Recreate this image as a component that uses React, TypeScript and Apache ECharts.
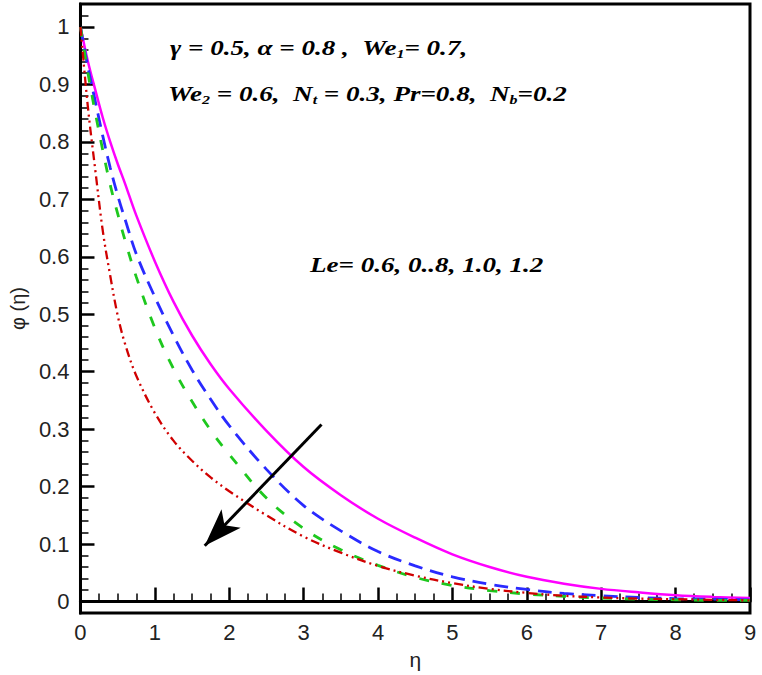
import React, { useEffect, useRef } from "react";
import * as echarts from "echarts";

const eta = [0, 0.1, 0.2, 0.3, 0.4, 0.5, 0.6, 0.75, 1, 1.25, 1.5, 1.75, 2, 2.5, 3, 3.5, 4, 4.5, 5, 5.5, 6, 6.5, 7, 7.5, 8, 8.5, 9];
const phiLe06 = [1, 0.94, 0.89, 0.842, 0.8, 0.762, 0.727, 0.672, 0.592, 0.522, 0.463, 0.413, 0.37, 0.297, 0.234, 0.185, 0.144, 0.111, 0.082, 0.06, 0.043, 0.031, 0.022, 0.016, 0.011, 0.008, 0.006];
const phiLe08 = [1, 0.93, 0.87, 0.81, 0.755, 0.707, 0.665, 0.605, 0.53, 0.463, 0.403, 0.352, 0.306, 0.23, 0.167, 0.123, 0.087, 0.062, 0.043, 0.03, 0.021, 0.014, 0.01, 0.007, 0.005, 0.004, 0.003];
const phiLe10 = [1, 0.92, 0.85, 0.785, 0.725, 0.675, 0.628, 0.565, 0.476, 0.405, 0.348, 0.298, 0.256, 0.18, 0.127, 0.09, 0.063, 0.042, 0.028, 0.019, 0.013, 0.009, 0.006, 0.004, 0.003, 0.002, 0.002];
const phiLe12 = [1, 0.86, 0.75, 0.645, 0.567, 0.498, 0.448, 0.393, 0.328, 0.28, 0.245, 0.216, 0.192, 0.15, 0.113, 0.085, 0.062, 0.045, 0.032, 0.022, 0.015, 0.01, 0.007, 0.005, 0.004, 0.003, 0.002];

const yMajorTicks = [0, 0.1, 0.2, 0.3, 0.4, 0.5, 0.6, 0.7, 0.8, 0.9, 1];
const yMinorTicks = [0.02, 0.04, 0.06, 0.08, 0.12, 0.14, 0.16, 0.18, 0.22, 0.24, 0.26, 0.28, 0.32, 0.34, 0.36, 0.38, 0.42, 0.44, 0.46, 0.48, 0.52, 0.54, 0.56, 0.58, 0.62, 0.64, 0.66, 0.68, 0.72, 0.74, 0.76, 0.78, 0.82, 0.84, 0.86, 0.88, 0.92, 0.94, 0.96, 0.98, 1.02];

const arrowStart = [3.24, 0.308];
const arrowEnd = [1.67, 0.097];

const pair = (ys: number[]) => eta.map((x, i) => [x, ys[i]]);

export default function App() {
  const ref = useRef<HTMLDivElement>(null);
  useEffect(() => {
    if (!ref.current) return;
    const chart = echarts.init(ref.current, null, { renderer: "svg" });
    const serif = "Liberation Serif";
    const sans = "Liberation Sans";
    const rich = {
      t: { fontFamily: serif, fontSize: 22, fontWeight: "bold", fontStyle: "italic", fill: "#000" },
      s: { fontFamily: serif, fontSize: 13, fontWeight: "bold", fontStyle: "italic", fill: "#000", padding: [12, 0, 0, 0] },
    };
    const note = (x: number, y: number, text: string) => ({
      type: "text",
      x,
      y,
      scaleX: 1.23,
      scaleY: 1,
      style: { text, rich, verticalAlign: "top", align: "left" },
    });
    chart.setOption({
      animation: false,
      backgroundColor: "#fff",
      grid: { left: 79, right: 12, top: 4, bottom: 62, show: true, borderColor: "#000", borderWidth: 3 },
      xAxis: {
        type: "value",
        min: 0,
        max: 9,
        interval: 1,
        name: "η",
        nameLocation: "middle",
        nameGap: 36,
        nameTextStyle: { fontFamily: sans, fontSize: 21, color: "#222" },
        axisLine: { lineStyle: { color: "#000", width: 3 } },
        axisTick: { inside: true, length: 14, lineStyle: { color: "#000", width: 2.5 } },
        minorTick: { show: true, splitNumber: 4, length: 8, lineStyle: { color: "#000", width: 1.5 } },
        axisLabel: { fontFamily: sans, fontSize: 22, color: "#222", margin: 8 },
        splitLine: { show: false },
      },
      yAxis: [
        {
          type: "value",
          min: -0.02,
          max: 1.04,
          position: "left",
          name: "φ (η)",
          nameLocation: "middle",
          nameGap: 48,
          nameRotate: 90,
          nameTextStyle: { fontFamily: sans, fontSize: 20, color: "#222" },
          axisLine: { lineStyle: { color: "#000", width: 3 } },
          axisTick: { inside: true, length: 14, customValues: yMajorTicks, lineStyle: { color: "#000", width: 2.5 } },
          axisLabel: {
            fontFamily: sans,
            fontSize: 22,
            color: "#222",
            margin: 11,
            customValues: yMajorTicks,
            formatter: (v: number) => String(+v.toFixed(1)),
          },
          splitLine: { show: false },
        },
        {
          type: "value",
          min: -0.02,
          max: 1.04,
          position: "left",
          offset: 0,
          axisLine: { show: false },
          axisTick: { inside: true, length: 8, customValues: yMinorTicks, lineStyle: { color: "#000", width: 1.5 } },
          axisLabel: { show: false },
          splitLine: { show: false },
        },
      ],
      series: [
        {
          type: "line",
          yAxisIndex: 0,
          data: pair(phiLe06),
          smooth: 0.35,
          showSymbol: false,
          lineStyle: { color: "#ff00ff", width: 2.5, type: "solid" },
          markLine: {
            silent: true,
            animation: false,
            label: { show: false },
            lineStyle: { color: "#000", width: 3, type: "solid" },
            data: [[
              { coord: arrowStart, symbol: "none" },
              { coord: arrowEnd, symbol: "arrow", symbolSize: [20, 38] },
            ]],
          },
        },
        {
          type: "line",
          yAxisIndex: 0,
          data: pair(phiLe08),
          smooth: 0.35,
          showSymbol: false,
          lineStyle: { color: "#2a2aff", width: 2.8, type: [14, 8] },
        },
        {
          type: "line",
          yAxisIndex: 0,
          data: pair(phiLe10),
          smooth: 0.35,
          showSymbol: false,
          lineStyle: { color: "#1ec81e", width: 2.8, type: [10, 13] },
        },
        {
          type: "line",
          yAxisIndex: 0,
          data: pair(phiLe12),
          smooth: 0.35,
          showSymbol: false,
          lineStyle: { color: "#d00000", width: 2.3, type: [9, 4, 2, 4, 2, 4] },
        },
      ],
      graphic: [
        note(170, 35, "{t|γ = 0.5, α = 0.8 ,  We}{s|1}{t|= 0.7,}"),
        note(168, 81, "{t|We}{s|2}{t| = 0.6,  N}{s|t}{t| = 0.3, Pr=0.8,  N}{s|b}{t|=0.2}"),
        note(310, 253, "{t|Le= 0.6, 0..8, 1.0, 1.2}"),
      ],
    });
    return () => chart.dispose();
  }, []);
  return <div ref={ref} style={{ position: "fixed", left: 0, top: 0, width: 762, height: 675 }} />;
}
